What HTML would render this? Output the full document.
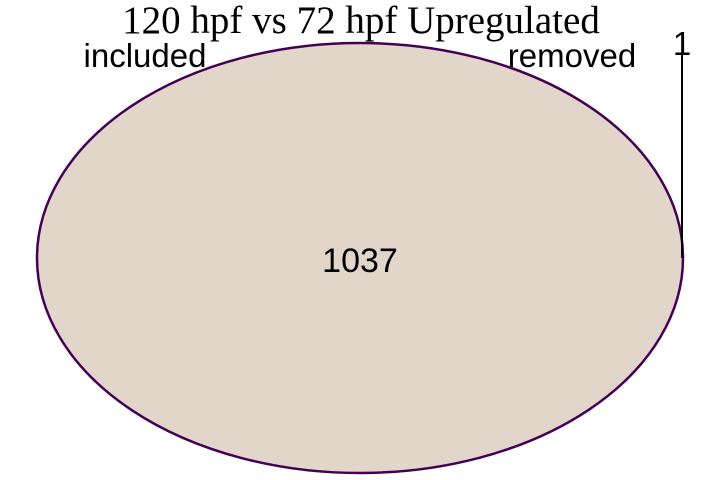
<!DOCTYPE html>
<html><head><meta charset="utf-8"><style>
html,body{margin:0;padding:0;background:#fff;width:720px;height:480px;overflow:hidden}
</style></head><body>
<svg width="720" height="480">
<ellipse cx="360" cy="258" rx="323" ry="215" fill="#e2d6cb" stroke="#440154" stroke-width="2.5"/>
<line x1="682" y1="52" x2="682" y2="258" stroke="#000" stroke-width="2"/>
<text x="361" y="33" text-anchor="middle" font-family="Liberation Serif, serif" font-size="39">120 hpf vs 72 hpf Upregulated</text>
<text x="145" y="67" text-anchor="middle" font-family="Liberation Sans, sans-serif" font-size="33">included</text>
<text x="572" y="67" text-anchor="middle" font-family="Liberation Sans, sans-serif" font-size="33">removed</text>
<text x="682" y="55" text-anchor="middle" font-family="Liberation Sans, sans-serif" font-size="33">1</text>
<text x="360" y="272" text-anchor="middle" font-family="Liberation Sans, sans-serif" font-size="34">1037</text>
</svg>
</body></html>
